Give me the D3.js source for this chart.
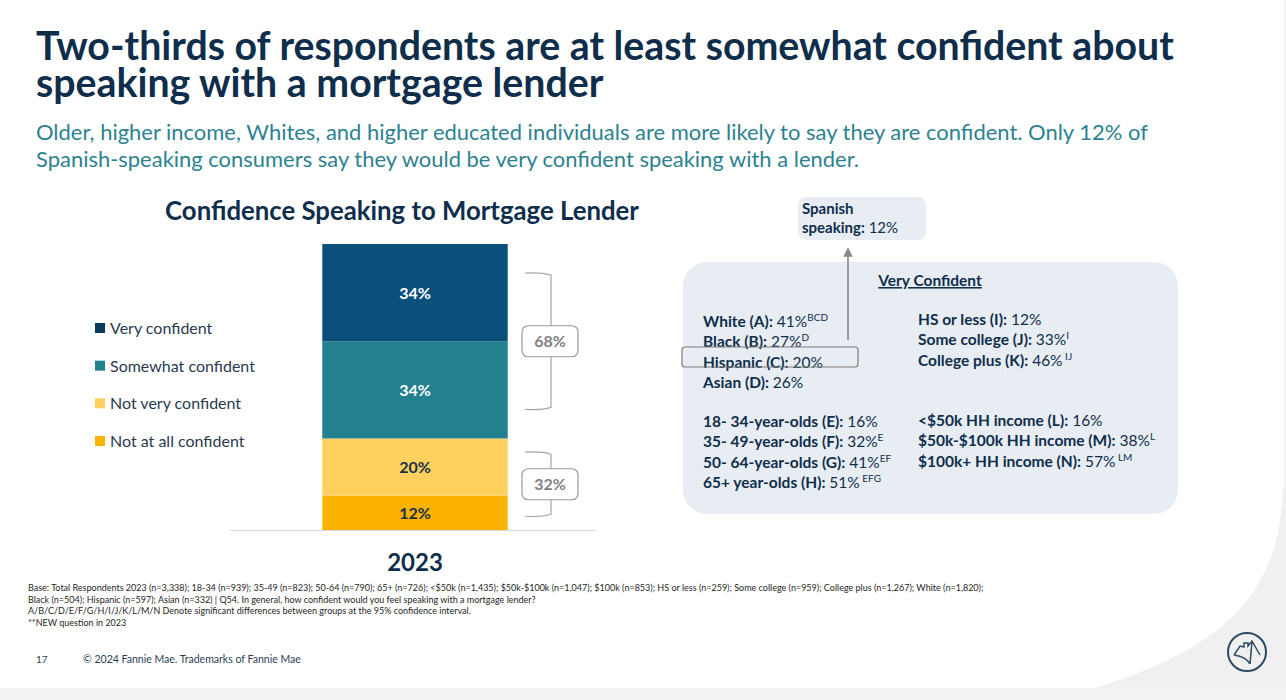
<!DOCTYPE html>
<html>
<head>
<meta charset="utf-8">
<script src="https://cdn.jsdelivr.net/npm/d3@7"></script>
<style>
  body { margin: 0; background: #fff; }
  svg { display: block; font-family: Lato, "Noto Sans", sans-serif; }
</style>
</head>
<body>
<div id="wrapper"></div>
<script>
// ---- data ----
const titleLines = [
  "Two-thirds of respondents are at least somewhat confident about",
  "speaking with a mortgage lender",
];
const subtitleLines = [
  "Older, higher income, Whites, and higher educated individuals are more likely to say they are confident. Only 12% of",
  "Spanish-speaking consumers say they would be very confident speaking with a lender.",
];
const chartTitle = "Confidence Speaking to Mortgage Lender";
const years = ["2023"];
const categories = ["Very confident", "Somewhat confident", "Not very confident", "Not at all confident"];
const values = [34, 34, 20, 12];
const colors = ["#0b4f7b", "#23808f", "#fed15f", "#fcb300"];
const labelColors = ["#ffffff", "#ffffff", "#1b2f47", "#1b2f47"];
// nets shown with brackets: [first category index, last category index, label]
const nets = [
  { from: 0, to: 1, label: "68%" },
  { from: 2, to: 3, label: "32%" },
];

const spanishLabel = ["Spanish", "speaking:"];
const spanishValue = "12%";
const panelTitle = "Very Confident";
const raceRows = [
  ["White (A):", "41%", "BCD"],
  ["Black (B):", "27%", "D"],
  ["Hispanic (C):", "20%", ""],
  ["Asian (D):", "26%", ""],
];
const ageRows = [
  ["18- 34-year-olds (E):", "16%", ""],
  ["35- 49-year-olds (F):", "32%", "E"],
  ["50- 64-year-olds (G):", "41%", "EF"],
  ["65+ year-olds (H):", "51%", " EFG"],
];
const eduRows = [
  ["HS or less (I):", "12%", ""],
  ["Some college (J):", "33%", "I"],
  ["College plus (K):", "46%", " IJ"],
];
const incomeRows = [
  ["<$50k HH income (L):", "16%", ""],
  ["$50k-$100k HH income (M):", "38%", "L"],
  ["$100k+ HH income (N):", "57%", " LM"],
];
const footnotes = [
  "Base:  Total Respondents 2023 (n=3,338); 18-34 (n=939); 35-49 (n=823); 50-64 (n=790); 65+ (n=726); <$50k (n=1,435); $50k-$100k (n=1,047); $100k (n=853); HS or less (n=259); Some college (n=959); College plus (n=1,267); White (n=1,820);",
  "Black (n=504); Hispanic (n=597); Asian (n=332) | Q54. In general, how confident would you feel speaking with a mortgage lender?",
  "A/B/C/D/E/F/G/H/I/J/K/L/M/N Denote significant differences between groups at  the 95% confidence interval.",
  "**NEW question in 2023",
];
const pageNumber = "17";
const copyright = "© 2024 Fannie Mae. Trademarks of Fannie Mae";

// ---- setup ----
const width = 1286;
const height = 700;
const navy = "#0e2e4c";
const teal = "#2c8290";

const svg = d3.select("#wrapper")
  .append("svg")
  .attr("width", width)
  .attr("height", height);

// scale a text's font-size so that it spans a given width
function fitWidth(sel, target) {
  const w = sel.node().getComputedTextLength();
  const fs = parseFloat(sel.attr("font-size"));
  sel.attr("font-size", (fs * target / w).toFixed(2));
}

// background decoration
svg.append("rect").attr("x", 1283).attr("y", 0).attr("width", 3).attr("height", 490).attr("fill", "#f7f7f7");
svg.append("path")
  .attr("d", "M1283,488 C1280,585 1235,645 1095,688 L1286,688 L1286,488 Z")
  .attr("fill", "#f0f0f0");
svg.append("rect").attr("x", 0).attr("y", 688).attr("width", width).attr("height", 12).attr("fill", "#f2f2f2");

// ---- titles (one text block each, lines as tspans) ----
function multiline(lines, x, y, lineH, fs, weight, fill, firstWidth) {
  const probe = svg.append("text").attr("font-size", fs).attr("font-weight", weight).text(lines[0]);
  fitWidth(probe, firstWidth);
  const size = probe.attr("font-size");
  probe.remove();
  const t = svg.append("text")
    .attr("font-size", size).attr("font-weight", weight).attr("fill", fill);
  lines.forEach((l, i) => {
    t.append("tspan").attr("x", x).attr("y", y + i * lineH).text(l);
  });
  return t;
}
multiline(titleLines, 36, 60, 37, 37, 700, navy, 1138);
multiline(subtitleLines, 36, 140, 27, 20, 400, teal, 1112);

const ct = svg.append("text")
  .attr("x", 402).attr("y", 220)
  .attr("text-anchor", "middle")
  .attr("font-size", 23).attr("font-weight", 700)
  .attr("fill", navy).text(chartTitle);
fitWidth(ct, 474);

// ---- stacked bar ----
const xScale = d3.scaleBand().domain(years).range([232, 598]).paddingInner(0).paddingOuter(0.487);
const yScale = d3.scaleLinear().domain([0, 100]).range([530, 244]);

// stack from the bottom: last category sits at the bottom
const row = { year: years[0] };
categories.forEach((c, i) => (row[c] = values[i]));
const stack = d3.stack().keys(categories.slice().reverse())([row]);

const segs = svg.append("g");
stack.forEach((layer) => {
  const i = categories.indexOf(layer.key);
  const d = layer[0];
  segs.append("rect")
    .attr("x", xScale(years[0]))
    .attr("width", xScale.bandwidth())
    .attr("y", yScale(d[1]))
    .attr("height", yScale(d[0]) - yScale(d[1]))
    .attr("fill", colors[i]);
  segs.append("text")
    .attr("x", xScale(years[0]) + xScale.bandwidth() / 2)
    .attr("y", (yScale(d[0]) + yScale(d[1])) / 2 + 6)
    .attr("text-anchor", "middle")
    .attr("font-size", 16).attr("font-weight", 700)
    .attr("fill", labelColors[i])
    .text(values[i] + "%");
});

// baseline axis
svg.append("line")
  .attr("x1", 230).attr("x2", 597)
  .attr("y1", yScale(0) + 0.5).attr("y2", yScale(0) + 0.5)
  .attr("stroke", "#d9d9d9").attr("stroke-width", 1);

const xAxis = svg.append("g")
  .attr("transform", `translate(0, ${yScale(0)})`)
  .call(d3.axisBottom(xScale).tickSize(0).tickPadding(24));
xAxis.select(".domain").remove();
xAxis.selectAll("text")
  .attr("font-family", "Lato, sans-serif")
  .attr("font-size", 24).attr("font-weight", 700)
  .attr("fill", navy);

// brackets
const bx = 551;
nets.forEach((n) => {
  const key = (i) => categories[i];
  const layerTop = stack.find((l) => l.key === key(n.from))[0][1];
  const layerBot = stack.find((l) => l.key === key(n.to))[0][0];
  const yTop = yScale(layerTop);
  const yBot = yScale(layerBot);
  const inset = (yBot - yTop) * 0.15;
  const t = yTop + inset;
  const b = yBot - inset;
  const g = svg.append("g");
  g.append("path")
    .attr("d", `M${bx - 26},${t} Q${bx - 10},${t - 1} ${bx},${t + 2} L${bx},${b - 2} Q${bx - 10},${b + 1} ${bx - 26},${b}`)
    .attr("fill", "none").attr("stroke", "#a6a6a6").attr("stroke-width", 1.2);
  const mid = (t + b) / 2;
  g.append("rect")
    .attr("x", bx - 29).attr("y", mid - 15.5)
    .attr("width", 56).attr("height", 31).attr("rx", 6)
    .attr("fill", "#fff").attr("stroke", "#9a9a9a").attr("stroke-width", 1.2);
  g.append("text")
    .attr("x", bx - 1).attr("y", mid + 6)
    .attr("text-anchor", "middle")
    .attr("font-size", 16).attr("font-weight", 700)
    .attr("fill", "#7f7f7f").text(n.label);
});

// legend
const legendY = d3.scalePoint().domain(categories).range([328, 441]);
const legend = svg.append("g");
categories.forEach((c, i) => {
  legend.append("rect")
    .attr("x", 95).attr("y", legendY(c) - 5)
    .attr("width", 10).attr("height", 10)
    .attr("fill", i === 0 ? "#0c3a5c" : colors[i]);
  legend.append("text")
    .attr("x", 110).attr("y", legendY(c) + 6)
    .attr("font-size", 16).attr("fill", "#2a3b4f")
    .text(c);
});

// ---- right panel ----
svg.append("rect")
  .attr("x", 683).attr("y", 262).attr("width", 495).attr("height", 252)
  .attr("rx", 24).attr("fill", "#e8edf3");

svg.append("rect")
  .attr("x", 798).attr("y", 197).attr("width", 128).attr("height", 43)
  .attr("rx", 8).attr("fill", "#e8edf3");
const sp = svg.append("text").attr("x", 802).attr("font-size", 15).attr("fill", navy);
sp.append("tspan").attr("x", 802).attr("y", 214).attr("font-weight", 700).text(spanishLabel[0]);
sp.append("tspan").attr("x", 802).attr("y", 233).attr("font-weight", 700).text(spanishLabel[1]);
sp.append("tspan").attr("font-weight", 400).text(" " + spanishValue);

// arrow from Hispanic to Spanish speaking
svg.append("defs").append("marker")
  .attr("id", "arrow").attr("viewBox", "0 0 10 10")
  .attr("refX", 5).attr("refY", 5)
  .attr("markerWidth", 6).attr("markerHeight", 6)
  .attr("orient", "auto")
  .append("path").attr("d", "M0,0 L10,5 L0,10 Z").attr("fill", "#888");
svg.append("line")
  .attr("x1", 848).attr("x2", 848).attr("y1", 340).attr("y2", 252)
  .attr("stroke", "#888").attr("stroke-width", 1.6)
  .attr("marker-end", "url(#arrow)");

svg.append("text")
  .attr("x", 930).attr("y", 286)
  .attr("text-anchor", "middle")
  .attr("font-size", 15.5).attr("font-weight", 700)
  .attr("text-decoration", "underline")
  .attr("fill", navy).text(panelTitle);

const rowStep = 20.3;
function drawRows(rows, x, y0) {
  rows.forEach((r, i) => {
    const t = svg.append("text")
      .attr("x", x).attr("y", y0 + i * rowStep)
      .attr("font-size", 15.5).attr("fill", navy);
    t.append("tspan").attr("font-weight", 700).text(r[0]);
    t.append("tspan").attr("font-weight", 400).text(" " + r[1]);
    if (r[2]) {
      t.append("tspan").attr("font-size", 10).attr("dy", -6).text(r[2]);
    }
  });
}
drawRows(raceRows, 703, 327);
drawRows(ageRows, 703, 427);
drawRows(eduRows, 918, 325);
drawRows(incomeRows, 918, 426);

// highlight around Hispanic row
svg.append("rect")
  .attr("x", 682).attr("y", 347).attr("width", 176).attr("height", 20)
  .attr("rx", 3).attr("fill", "none")
  .attr("stroke", "#7a7a7a").attr("stroke-width", 1.2);

// ---- footnotes ----
let fnFs = null;
footnotes.forEach((f, i) => {
  const el = svg.append("text")
    .attr("x", 28).attr("y", 591 + i * 11.5)
    .attr("font-size", 9).attr("fill", "#262626")
    .text(f);
  if (i === 0) { fitWidth(el, 955); fnFs = el.attr("font-size"); }
  else el.attr("font-size", fnFs);
});

svg.append("text").attr("x", 36).attr("y", 663)
  .attr("font-size", 10).attr("fill", "#2b3f55").text(pageNumber);
const cp = svg.append("text").attr("x", 83).attr("y", 663)
  .attr("font-size", 10).attr("fill", "#2b3f55").text(copyright);
fitWidth(cp, 218);

// logo
const logo = svg.append("g").attr("transform", "translate(1247,652)")
  .attr("fill", "none").attr("stroke", "#2d4b64").attr("stroke-width", 2);
logo.append("circle").attr("r", 19);
logo.append("path")
  .attr("stroke-width", 1.5)
  .attr("d", "M-13,3 L-7,-6 L-3,-5 L-3,-9 L1,-9 L1,-6 L5,-11 L13,3 M-13,3 C-6,4 0,6 3,12 M5,-11 L3,12 M4,-2 L4,3");
</script>
</body>
</html>
